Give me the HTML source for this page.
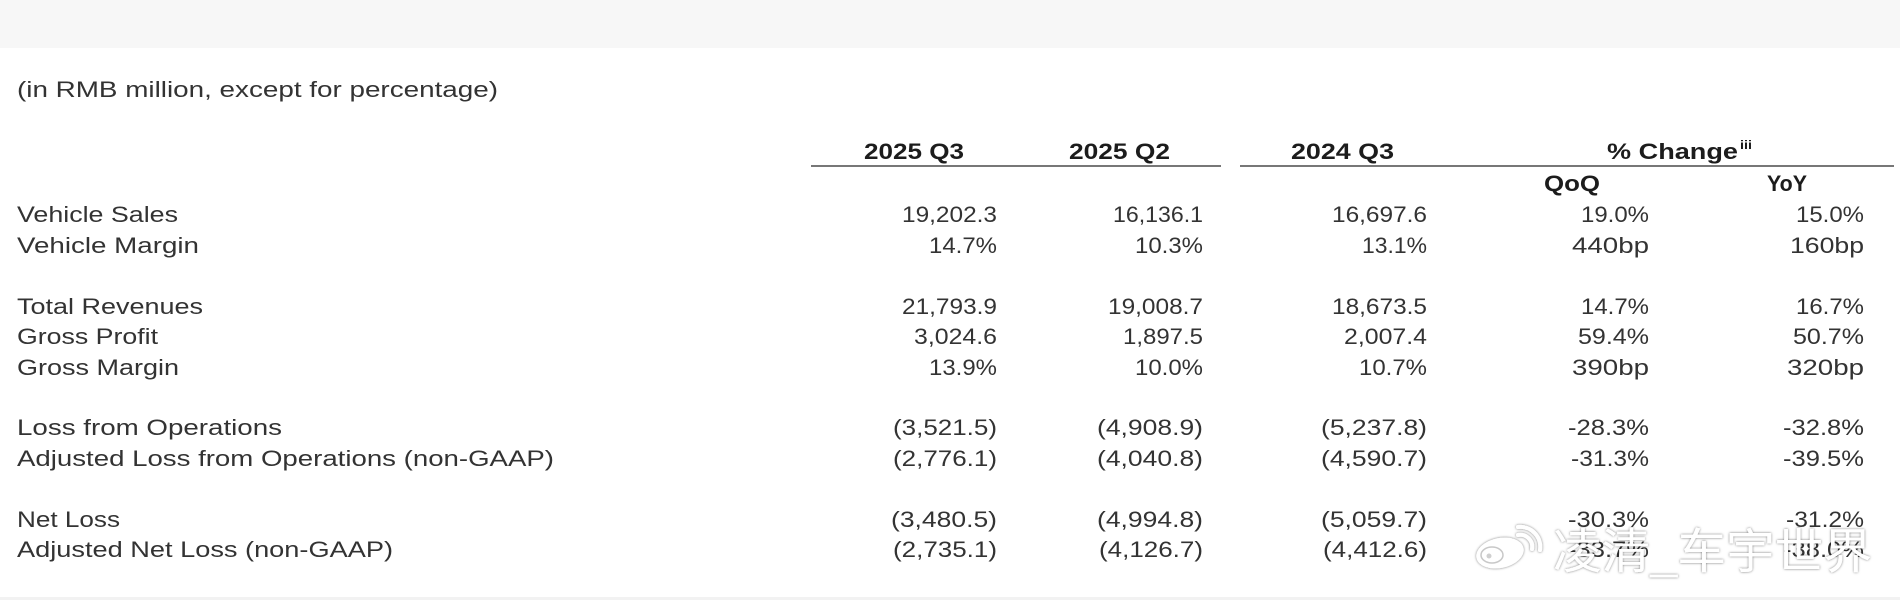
<!DOCTYPE html>
<html>
<head>
<meta charset="utf-8">
<style>
  html, body { margin: 0; padding: 0; background: #ffffff; }
  body { width: 1900px; height: 600px; overflow: hidden; }
  svg { display: block; }
  .lab { font-family: "Liberation Sans", sans-serif; font-size: 22.5px; fill: #333333; }
  .val { font-family: "Liberation Sans", sans-serif; font-size: 22.5px; fill: #333333; text-anchor: end; }
  .hdr { font-family: "Liberation Sans", sans-serif; font-size: 22px; font-weight: bold; fill: #1c1c1c; }
  .wm { font-family: "Liberation Sans", "Noto Sans CJK SC", sans-serif; font-size: 48px; fill: #ffffff; }
</style>
</head>
<body>
<svg width="1900" height="600" viewBox="0 0 1900 600" xmlns="http://www.w3.org/2000/svg">
  <defs>
    <filter id="sh" x="-10%" y="-30%" width="120%" height="160%">
      <feDropShadow dx="0" dy="0" stdDeviation="1.3" flood-color="#000000" flood-opacity="0.55"/>
    </filter>
  </defs>

  <!-- backgrounds -->
  <rect x="0" y="0" width="1900" height="600" fill="#ffffff"/>
  <rect x="0" y="0" width="1900" height="48" fill="#f7f7f7"/>
  <rect x="0" y="597" width="1900" height="3" fill="#f2f2f2"/>

  <!-- subtitle -->
  <text class="lab" x="17" y="97" textLength="481" lengthAdjust="spacingAndGlyphs">(in RMB million, except for percentage)</text>

  <!-- headers -->
  <text class="hdr" x="864" y="159" textLength="100" lengthAdjust="spacingAndGlyphs">2025 Q3</text>
  <text class="hdr" x="1069" y="159" textLength="101" lengthAdjust="spacingAndGlyphs">2025 Q2</text>
  <text class="hdr" x="1291" y="159" textLength="103" lengthAdjust="spacingAndGlyphs">2024 Q3</text>
  <text class="hdr" x="1607" y="159" textLength="131" lengthAdjust="spacingAndGlyphs">% Change</text>
  <text class="hdr" x="1740" y="149" style="font-size:12px" textLength="12" lengthAdjust="spacingAndGlyphs">iii</text>

  <rect x="811" y="165" width="410" height="2" fill="#777777"/>
  <rect x="1240" y="165" width="654" height="2" fill="#777777"/>

  <text class="hdr" x="1544" y="191" textLength="56" lengthAdjust="spacingAndGlyphs">QoQ</text>
  <text class="hdr" x="1767" y="191" textLength="40" lengthAdjust="spacingAndGlyphs">YoY</text>

  <!-- row labels -->
  <text class="lab" x="17" y="222" textLength="161" lengthAdjust="spacingAndGlyphs">Vehicle Sales</text>
  <text class="lab" x="17" y="253" textLength="182" lengthAdjust="spacingAndGlyphs">Vehicle Margin</text>
  <text class="lab" x="17" y="314" textLength="186" lengthAdjust="spacingAndGlyphs">Total Revenues</text>
  <text class="lab" x="17" y="344" textLength="141" lengthAdjust="spacingAndGlyphs">Gross Profit</text>
  <text class="lab" x="17" y="375" textLength="162" lengthAdjust="spacingAndGlyphs">Gross Margin</text>
  <text class="lab" x="17" y="435" textLength="265" lengthAdjust="spacingAndGlyphs">Loss from Operations</text>
  <text class="lab" x="17" y="466" textLength="537" lengthAdjust="spacingAndGlyphs">Adjusted Loss from Operations (non-GAAP)</text>
  <text class="lab" x="17" y="527" textLength="103" lengthAdjust="spacingAndGlyphs">Net Loss</text>
  <text class="lab" x="17" y="557" textLength="376" lengthAdjust="spacingAndGlyphs">Adjusted Net Loss (non-GAAP)</text>

  <!-- Row: Vehicle Sales -->
  <text class="val" x="997" y="222" textLength="95" lengthAdjust="spacingAndGlyphs">19,202.3</text>
  <text class="val" x="1203" y="222" textLength="90" lengthAdjust="spacingAndGlyphs">16,136.1</text>
  <text class="val" x="1427" y="222" textLength="95" lengthAdjust="spacingAndGlyphs">16,697.6</text>
  <text class="val" x="1649" y="222" textLength="68" lengthAdjust="spacingAndGlyphs">19.0%</text>
  <text class="val" x="1864" y="222" textLength="68" lengthAdjust="spacingAndGlyphs">15.0%</text>

  <!-- Row: Vehicle Margin -->
  <text class="val" x="997" y="253" textLength="68" lengthAdjust="spacingAndGlyphs">14.7%</text>
  <text class="val" x="1203" y="253" textLength="68" lengthAdjust="spacingAndGlyphs">10.3%</text>
  <text class="val" x="1427" y="253" textLength="65" lengthAdjust="spacingAndGlyphs">13.1%</text>
  <text class="val" x="1649" y="253" textLength="77" lengthAdjust="spacingAndGlyphs">440bp</text>
  <text class="val" x="1864" y="253" textLength="74" lengthAdjust="spacingAndGlyphs">160bp</text>

  <!-- Row: Total Revenues -->
  <text class="val" x="997" y="314" textLength="95" lengthAdjust="spacingAndGlyphs">21,793.9</text>
  <text class="val" x="1203" y="314" textLength="95" lengthAdjust="spacingAndGlyphs">19,008.7</text>
  <text class="val" x="1427" y="314" textLength="95" lengthAdjust="spacingAndGlyphs">18,673.5</text>
  <text class="val" x="1649" y="314" textLength="68" lengthAdjust="spacingAndGlyphs">14.7%</text>
  <text class="val" x="1864" y="314" textLength="68" lengthAdjust="spacingAndGlyphs">16.7%</text>

  <!-- Row: Gross Profit -->
  <text class="val" x="997" y="344" textLength="83" lengthAdjust="spacingAndGlyphs">3,024.6</text>
  <text class="val" x="1203" y="344" textLength="80" lengthAdjust="spacingAndGlyphs">1,897.5</text>
  <text class="val" x="1427" y="344" textLength="83" lengthAdjust="spacingAndGlyphs">2,007.4</text>
  <text class="val" x="1649" y="344" textLength="71" lengthAdjust="spacingAndGlyphs">59.4%</text>
  <text class="val" x="1864" y="344" textLength="71" lengthAdjust="spacingAndGlyphs">50.7%</text>

  <!-- Row: Gross Margin -->
  <text class="val" x="997" y="375" textLength="68" lengthAdjust="spacingAndGlyphs">13.9%</text>
  <text class="val" x="1203" y="375" textLength="68" lengthAdjust="spacingAndGlyphs">10.0%</text>
  <text class="val" x="1427" y="375" textLength="68" lengthAdjust="spacingAndGlyphs">10.7%</text>
  <text class="val" x="1649" y="375" textLength="77" lengthAdjust="spacingAndGlyphs">390bp</text>
  <text class="val" x="1864" y="375" textLength="77" lengthAdjust="spacingAndGlyphs">320bp</text>

  <!-- Row: Loss from Operations -->
  <text class="val" x="997" y="435" textLength="104" lengthAdjust="spacingAndGlyphs">(3,521.5)</text>
  <text class="val" x="1203" y="435" textLength="106" lengthAdjust="spacingAndGlyphs">(4,908.9)</text>
  <text class="val" x="1427" y="435" textLength="106" lengthAdjust="spacingAndGlyphs">(5,237.8)</text>
  <text class="val" x="1649" y="435" textLength="81" lengthAdjust="spacingAndGlyphs">-28.3%</text>
  <text class="val" x="1864" y="435" textLength="81" lengthAdjust="spacingAndGlyphs">-32.8%</text>

  <!-- Row: Adjusted Loss from Operations -->
  <text class="val" x="997" y="466" textLength="104" lengthAdjust="spacingAndGlyphs">(2,776.1)</text>
  <text class="val" x="1203" y="466" textLength="106" lengthAdjust="spacingAndGlyphs">(4,040.8)</text>
  <text class="val" x="1427" y="466" textLength="106" lengthAdjust="spacingAndGlyphs">(4,590.7)</text>
  <text class="val" x="1649" y="466" textLength="78" lengthAdjust="spacingAndGlyphs">-31.3%</text>
  <text class="val" x="1864" y="466" textLength="81" lengthAdjust="spacingAndGlyphs">-39.5%</text>

  <!-- Row: Net Loss -->
  <text class="val" x="997" y="527" textLength="106" lengthAdjust="spacingAndGlyphs">(3,480.5)</text>
  <text class="val" x="1203" y="527" textLength="106" lengthAdjust="spacingAndGlyphs">(4,994.8)</text>
  <text class="val" x="1427" y="527" textLength="106" lengthAdjust="spacingAndGlyphs">(5,059.7)</text>
  <text class="val" x="1649" y="527" textLength="81" lengthAdjust="spacingAndGlyphs">-30.3%</text>
  <text class="val" x="1864" y="527" textLength="78" lengthAdjust="spacingAndGlyphs">-31.2%</text>

  <!-- Row: Adjusted Net Loss -->
  <text class="val" x="997" y="557" textLength="104" lengthAdjust="spacingAndGlyphs">(2,735.1)</text>
  <text class="val" x="1203" y="557" textLength="104" lengthAdjust="spacingAndGlyphs">(4,126.7)</text>
  <text class="val" x="1427" y="557" textLength="104" lengthAdjust="spacingAndGlyphs">(4,412.6)</text>
  <text class="val" x="1649" y="557" textLength="81" lengthAdjust="spacingAndGlyphs">-33.7%</text>
  <text class="val" x="1864" y="557" textLength="81" lengthAdjust="spacingAndGlyphs">-38.0%</text>

  <!-- watermark -->
  <g filter="url(#sh)">
    <ellipse cx="1500" cy="553" rx="24" ry="15" fill="#ffffff" transform="rotate(-12 1500 553)"/>
    <path d="M1518 535 A 12 12 0 0 1 1532 549" fill="none" stroke="#ffffff" stroke-width="4" stroke-linecap="round"/>
    <path d="M1518 527 A 20 20 0 0 1 1540 550" fill="none" stroke="#ffffff" stroke-width="4" stroke-linecap="round"/>
  </g>
  <ellipse cx="1492" cy="555" rx="11" ry="8" fill="none" stroke="#c8c8c8" stroke-width="1.5"/>
  <circle cx="1489" cy="556" r="2.5" fill="#cfcfcf"/>
  <text class="wm" x="1553" y="568" textLength="319" lengthAdjust="spacingAndGlyphs" filter="url(#sh)">凌清_车宇世界</text>
</svg>
</body>
</html>
